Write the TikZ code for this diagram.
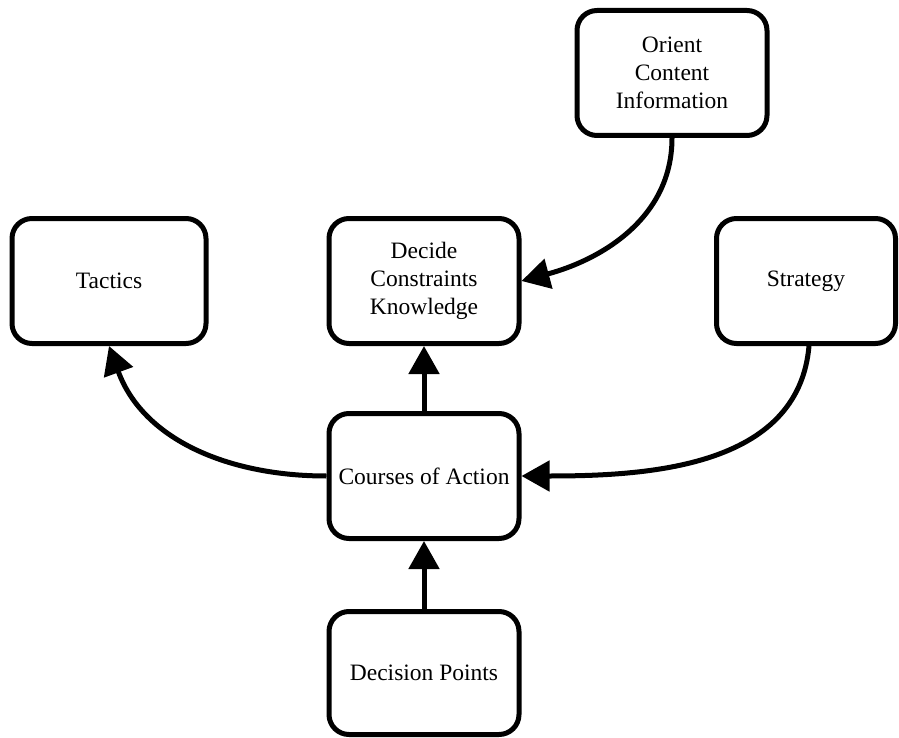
\documentclass[tikz,border=0pt]{standalone}
\usepackage{fontspec}
\setmainfont{Liberation Serif}
\usetikzlibrary{arrows.meta}
\begin{document}
\begin{tikzpicture}[x=1pt,y=-1pt,
  box/.style={draw=black, line width=5pt, rounded corners=20pt, fill=white,
    minimum width=190pt, minimum height=125pt, inner sep=0pt, align=center,
    font=\fontsize{23.5}{28}\selectfont},
  link/.style={line width=5pt, -{Triangle[length=28pt,width=30pt]}}]
\useasboundingbox (0,0) rectangle (899,738);

\node[box] (orient)   at (672,73)  {Orient\\Content\\Information};
\node[box, minimum width=194pt] (tactics) at (109,281) {Tactics};
\node[box] (decide)   at (424,281) {Decide\\Constraints\\Knowledge};
\node[box, minimum width=179pt] (strategy) at (806,281) {Strategy};
\node[box] (courses)  at (424,476) {Courses of Action};
\node[box, minimum height=123pt] (points) at (424,673) {Decision Points};

\draw[link] (points.north) -- (courses.south);
\draw[link] (courses.north) -- (decide.south);
\draw[link] (courses.west) to[out=180, in=-70] (tactics.south);
\draw[link] ([xshift=3pt]strategy.south) to[out=-95, in=0] (courses.east);
\draw[link] (orient.south) to[out=-90, in=15] (decide.east);
\end{tikzpicture}
\end{document}
